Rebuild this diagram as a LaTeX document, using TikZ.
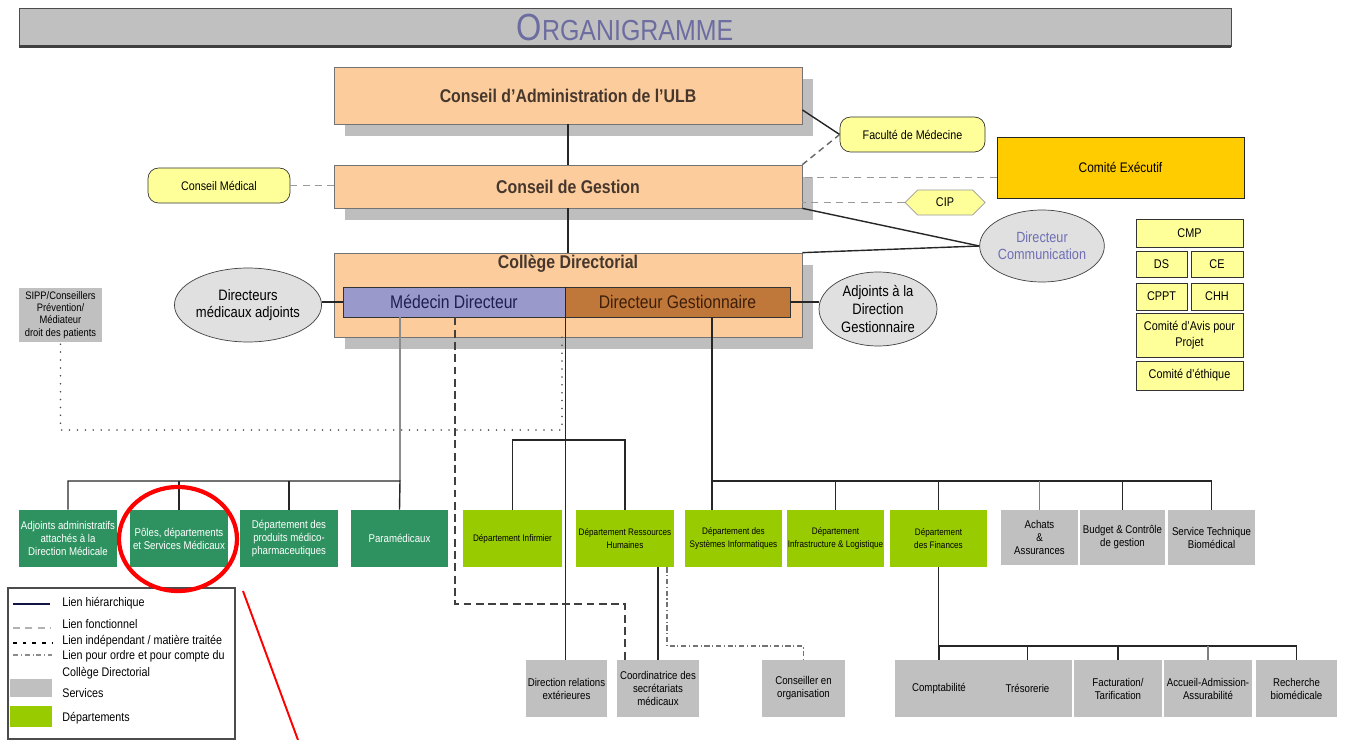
\documentclass[tikz,border=0pt]{standalone}
\usepackage{fontspec}
\setmainfont{Liberation Sans}[FakeStretch=0.86]
\usetikzlibrary{shapes.geometric,shapes.symbols,shadows,calc}

\definecolor{peche}{RGB}{252,204,156}
\definecolor{ombre}{RGB}{190,190,190}
\definecolor{jaunepale}{RGB}{255,255,153}
\definecolor{or}{RGB}{255,204,0}
\definecolor{lavande}{RGB}{153,153,204}
\definecolor{brun}{RGB}{192,120,58}
\definecolor{ellgris}{RGB}{224,224,224}
\definecolor{vertfonce}{RGB}{46,146,96}
\definecolor{vertclair}{RGB}{153,204,0}
\definecolor{gris}{RGB}{192,192,192}
\definecolor{titretexte}{RGB}{108,108,160}
\definecolor{textconseil}{RGB}{70,55,45}
\definecolor{textcom}{RGB}{110,110,180}
\definecolor{textmd}{RGB}{30,30,80}
\definecolor{textdg}{RGB}{60,30,10}
\definecolor{marine}{RGB}{20,20,70}

\tikzset{
  larg/.style={minimum width=#1*0.02cm},
  haut/.style={minimum height=#1*0.02cm},
  conseil/.style={rectangle, draw=black!55, fill=peche, inner sep=0pt, text=textconseil,
    font=\bfseries\fontsize{10.5}{12}\selectfont,
    drop shadow={shadow xshift=0.22cm, shadow yshift=-0.24cm, fill=ombre, opacity=1}},
  bulle/.style={rectangle, rounded corners=6pt, draw=black!80, fill=jaunepale, inner sep=0pt,
    font=\fontsize{7.1}{8}\selectfont},
  comite/.style={rectangle, draw=black!80, fill=jaunepale, inner sep=0pt, align=center,
    font=\fontsize{7.2}{9.2}\selectfont},
  ovale/.style={ellipse, draw=black!75, fill=ellgris, inner sep=0pt, align=center},
  pole/.style={rectangle, fill=vertfonce, text=white, inner sep=0pt, larg=98, haut=57,
    align=center, font=\fontsize{6.4}{7.4}\selectfont},
  dept/.style={rectangle, fill=vertclair, inner sep=0pt, larg=98, haut=57,
    align=center, font=\fontsize{5.4}{7}\selectfont},
  service/.style={rectangle, fill=gris, inner sep=0pt, haut=57,
    align=center, font=\fontsize{6.4}{7.4}\selectfont},
  hier/.style={draw=black!85, line width=0.8pt},
  fonct/.style={draw=black!40, line width=1.1pt, dash pattern=on 4pt off 3pt},
  indep/.style={draw=black!75, line width=0.8pt, dash pattern=on 4.5pt off 2.5pt},
  pointille/.style={draw=black!70, line width=1pt, line cap=round, dash pattern=on 0pt off 4.5pt},
  ordre/.style={draw=black!55, line width=0.7pt, dash pattern=on 3pt off 1.5pt on 0.6pt off 1.5pt},
  legtexte/.style={anchor=west, inner sep=0pt, font=\fontsize{7.1}{8.5}\selectfont}
}

\begin{document}
\begin{tikzpicture}[x=0.02cm, y=-0.02cm]
    \useasboundingbox (0,0) rectangle (1346,740);

    \node[rectangle, draw=black!70, fill=gris, larg=1212, haut=38, inner sep=0pt, text=titretexte] (titre) at (625,27)
        {\fontsize{21.5}{21.5}\selectfont O\fontsize{16.5}{16.5}\selectfont RGANIGRAMME};
    \draw[line width=1.6pt, black!75] (titre.south west) -- (titre.south east);

    \node[conseil, larg=468, haut=57] (cda) at (568,95.5) {Conseil d’Administration de l’ULB};
    \node[conseil, larg=468, haut=43] (cdg) at (568,186.5) {Conseil de Gestion};
    \node[conseil, larg=468, haut=84] (college) at (568,295) {};
    \node[inner sep=0pt, text=textconseil, font=\bfseries\fontsize{10.5}{12}\selectfont] (collegetitre) at (568,264) {Collège Directorial};
    \node[rectangle, draw=black!80, fill=lavande, larg=222, haut=30, inner sep=0pt, text=textmd,
        font=\fontsize{10.4}{12}\selectfont] (md) at (454,302) {Médecin Directeur};
    \node[rectangle, draw=black!80, fill=brun, larg=225, haut=30, inner sep=0pt, text=textdg,
        font=\fontsize{10.4}{12}\selectfont] (dg) at (677.5,302) {Directeur Gestionnaire};

    \node[bulle, larg=145, haut=35] (fac) at (912.5,134.5) {Faculté de Médecine};
    \node[bulle, larg=142, haut=35] (consmed) at (219,185.5) {Conseil Médical};
    \node[rectangle, draw=black!85, fill=or, larg=247, haut=61, inner sep=0pt, font=\fontsize{7.9}{9}\selectfont] (comex) at (1120.5,167.5) {Comité Exécutif};
    \node[signal, signal to=east and west, draw=black!40, fill=jaunepale, larg=80, haut=25, inner sep=0pt,
        font=\fontsize{7.2}{8}\selectfont] (cip) at (945,202.5) {CIP};
    \node[ovale, larg=116, haut=72, text=textcom, font=\fontsize{8.4}{9.8}\selectfont] (dircom) at (1042,246) {Directeur\\Communication};
    \node[ovale, larg=114, haut=74, font=\fontsize{8.6}{10}\selectfont] (dma) at (248,305) {Directeurs\\médicaux adjoints};
    \node[ovale, larg=118, haut=74, font=\fontsize{8.6}{10}\selectfont] (adg) at (878,309) {Adjoints à la\\Direction\\Gestionnaire};
    \node[service, larg=83, haut=54, font=\fontsize{6.2}{7}\selectfont] (sipp) at (60.5,315) {SIPP/Conseillers\\Prévention/\\Médiateur\\droit des patients};

    \node[comite, larg=107, haut=28] (cmp) at (1189.5,233) {CMP};
    \node[comite, larg=51, haut=26] (ds) at (1161.5,264) {DS};
    \node[comite, larg=52, haut=26] (ce) at (1217,264) {CE};
    \node[comite, larg=51, haut=27] (cppt) at (1161.5,296.5) {CPPT};
    \node[comite, larg=52, haut=27] (chh) at (1217,296.5) {CHH};
    \node[comite, larg=107, haut=44] (cap) at (1189.5,335) {Comité d’Avis pour\\Projet};
    \node[comite, larg=107, haut=29] (ethique) at (1189.5,375.5) {Comité d’éthique};

    \node[pole] (adjadm) at (68,538.5) {Adjoints administratifs\\attachés à la\\Direction Médicale};
    \node[pole] (poles) at (179,538.5) {Pôles, départements\\et Services Médicaux};
    \node[pole] (prod) at (289,538.5) {Département des\\produits médico-\\pharmaceutiques};
    \node[pole, larg=97] (para) at (399.5,538.5) {Paramédicaux};
    \node[dept, larg=99] (infirm) at (512.5,538.5) {Département Infirmier};
    \node[dept] (drh) at (625,538.5) {Département Ressources\\Humaines};
    \node[dept, larg=97] (dsi) at (733.5,538.5) {Département des\\Systèmes Informatiques};
    \node[dept, larg=97] (infra) at (835.5,538.5) {Département\\Infrastructure \& Logistique};
    \node[dept, larg=97] (fin) at (938.5,538.5) {Département\\des Finances};
    \node[service, larg=77, haut=55] (achats) at (1039.5,537.5) {Achats\\\&\\Assurances};
    \node[service, larg=85, haut=55] (budget) at (1122.5,537.5) {Budget \& Contrôle\\de gestion};
    \node[service, larg=87, haut=55] (stb) at (1211.5,537.5) {Service Technique\\Biomédical};

    \node[service, larg=81] (dre) at (566.5,688.5) {Direction relations\\extérieures};
    \node[service, larg=82] (coord) at (658,688.5) {Coordinatrice des\\secrétariats\\médicaux};
    \node[service, larg=83] (conseiller) at (803.5,688.5) {Conseiller en\\organisation};
    \node[service, larg=88] (compta) at (939,688.5) {Comptabilité};
    \node[service, larg=89] (treso) at (1027.5,688.5) {Trésorerie};
    \node[service, larg=88] (fact) at (1118,688.5) {Facturation/\\Tarification};
    \node[service, larg=88] (accueil) at (1208,688.5) {Accueil-Admission-\\Assurabilité};
    \node[service, larg=81] (rech) at (1296.5,688.5) {Recherche\\biomédicale};

    \coordinate (busmed) at (400,481);
    \coordinate (businf) at (566,440);
    \coordinate (busges) at (712,481);
    \coordinate (busfin) at (938,646);
    \coordinate (coudeindep) at (455,604);
    \coordinate (coudesipp) at (562,430);
    \coordinate (coudeordre) at (667,646);

    \draw[hier] (cda.south) -- (cdg.north);
    \draw[hier] (cdg.south) -- (college.north);
    \draw[hier] (md.north east) -- (md.south east);
    \draw[hier] ($(cda.east)!0.5!(cda.south east)$) -- (fac.west);
    \draw[fonct, black!60, line width=0.8pt, dash pattern=on 3.5pt off 2.5pt] (cdg.north east) -- (fac.west);
    \draw[fonct] ([yshift=-0.2cm]comex.west) -- ([yshift=-0.2cm]comex.west -| cdg.east);
    \draw[fonct] (cip.west) -- (cip.west -| cdg.east);
    \draw[fonct] (consmed.east) -- (consmed.east -| cdg.west);
    \draw[hier] (cdg.south east) -- (dircom.west);
    \draw[hier] (college.north east) -- (dircom.west);
    \draw[hier] (md.west -| dma.east) -- (md.west);
    \draw[hier] (dg.east) -- (dg.east -| adg.west);

    \draw[hier, black!45] (md.south -| busmed) -- (busmed);
    \draw[hier] (adjadm.north) |- (busmed) -- (para.north);
    \draw[hier] (poles.north) -- (poles.north |- busmed);
    \draw[hier] (prod.north) -- (prod.north |- busmed);

    \draw[hier] (md.south east) -- (md.south east |- dre.north);
    \draw[hier] (infirm.north) |- (businf) -| (drh.north);

    \draw[hier] (dg.south -| busges) -- (dsi.north -| busges);
    \draw[hier] (busges) -| (stb.north);
    \draw[hier] (infra.north) -- (infra.north |- busges);
    \draw[hier] (fin.north) -- (fin.north |- busges);
    \draw[hier, black!50] (achats.north) -- (achats.north |- busges);
    \draw[hier] (budget.north) -- (budget.north |- busges);

    \draw[hier] (fin.south) -- (fin.south |- busfin) -| (rech.north);
    \draw[hier] (compta.north) -- (compta.north |- busfin);
    \draw[hier] (treso.north) -- (treso.north |- busfin);
    \draw[hier] (fact.north) -- (fact.north |- busfin);
    \draw[hier, black!50] (accueil.north) -- (accueil.north |- busfin);

    \draw[hier] (coord.north) -- (coord.north |- drh.south);
    \draw[indep] (md.south -| coudeindep) -- (coudeindep) -| ([xshift=-0.66cm]coord.north);
    \draw[pointille] (college.south -| coudesipp) -- (coudesipp) -| (sipp.south);
    \draw[ordre] (drh.south -| coudeordre) -- (coudeordre) -| (conseiller.north);

    % legende
    \draw[black!70, line width=0.6pt] (8,588) rectangle (235,739);
    \draw[line width=0.8pt, marine] (13,604) -- (50,604);
    \draw[fonct, line width=0.9pt, black!30] (13,628) -- (50,628);
    \draw[line width=0.8pt, dash pattern=on 2pt off 3.5pt] (13,643) -- (52,643);
    \draw[ordre, black!45] (13,655) -- (52,655);
    \fill[gris] (10,679) rectangle (52,697);
    \fill[vertclair] (10,706) rectangle (52,727);
    \node[legtexte] at (62,603) {Lien hiérarchique};
    \node[legtexte] at (62,624) {Lien fonctionnel};
    \node[legtexte] at (62,641) {Lien indépendant / matière traitée};
    \node[legtexte] at (62,656) {Lien pour ordre et pour compte du};
    \node[legtexte] at (62,673) {Collège Directorial};
    \node[legtexte] at (62,693) {Services};
    \node[legtexte] at (62,718) {Départements};

    \draw[red, line width=2.4pt] (178,539) ellipse [x radius=59, y radius=52];
    \draw[red, line width=1.1pt] (243,591) -- (298,740);
\end{tikzpicture}
\end{document}
